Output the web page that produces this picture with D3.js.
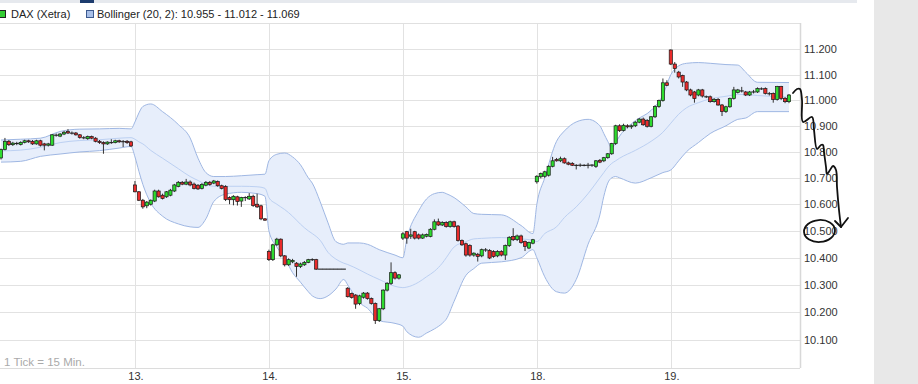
<!DOCTYPE html>
<html><head><meta charset="utf-8">
<script src="https://cdn.jsdelivr.net/npm/d3@7"></script>
<style>
html,body{margin:0;padding:0;background:#fff;}
svg{display:block;}
</style></head><body>
<svg id="chart" width="918" height="384"></svg>
<script>
// ---------- data ----------
const dayLabels = ["13.", "14.", "15.", "18.", "19."];
const dayStartIndex = [34, 68, 102, 136, 170];
const yTickValues = [10100, 10200, 10300, 10400, 10500, 10600, 10700, 10800, 10900, 11000, 11100, 11200];
const seriesLabel = "DAX (Xetra)";
const bandLabel = "Bollinger (20, 2): 10.955 - 11.012 - 11.069";
const tickNote = "1 Tick = 15 Min.";

// candles [open, high, low, close]
const day12 = [
 [10776,10812,10770,10808],[10808,10853,10805,10840],[10840,10845,10822,10827],[10827,10838,10822,10833],
 [10833,10838,10825,10830],[10828,10840,10824,10836],[10836,10846,10832,10842],[10842,10846,10834,10838],
 [10840,10845,10826,10830],[10830,10846,10827,10842],[10842,10846,10820,10825],[10830,10834,10805,10825],
 [10825,10834,10820,10830],[10825,10868,10822,10865],[10865,10870,10858,10862],[10860,10872,10856,10868],
 [10868,10880,10864,10875],[10878,10887,10868,10872],[10872,10878,10866,10871],[10872,10876,10862,10865],
 [10865,10868,10850,10855],[10855,10860,10848,10852],[10850,10862,10846,10858],[10858,10862,10848,10852],
 [10852,10856,10836,10840],[10840,10845,10830,10835],[10835,10840,10792,10830],[10830,10840,10826,10837],
 [10836,10848,10830,10834],[10835,10846,10832,10842],[10842,10846,10834,10838],[10840,10845,10818,10837],
 [10840,10845,10830,10835],[10838,10842,10818,10822]
];
const day13 = [
 [10673,10688,10645,10647],[10647,10650,10612,10615],[10615,10620,10583,10590],[10594,10612,10585,10608],
 [10600,10618,10595,10615],[10612,10655,10608,10650],[10650,10655,10625,10628],[10634,10640,10618,10622],
 [10628,10650,10624,10647],[10634,10658,10630,10653],[10650,10677,10646,10673],[10667,10688,10664,10683],
 [10683,10688,10672,10676],[10676,10696,10672,10684],[10684,10690,10668,10673],[10676,10682,10656,10660],
 [10672,10676,10654,10658],[10660,10680,10656,10675],[10672,10688,10668,10683],[10683,10688,10670,10675],
 [10680,10692,10676,10688],[10686,10690,10666,10670],[10670,10674,10656,10660],[10667,10672,10612,10618],
 [10625,10630,10600,10617],[10617,10634,10596,10630],[10628,10632,10595,10610],[10612,10628,10590,10625],
 [10624,10630,10612,10626],[10620,10642,10616,10630],[10630,10636,10590,10595],[10600,10640,10586,10590],
 [10594,10598,10540,10545],[10545,10548,10538,10540]
];
const day14 = [
 [10423,10430,10388,10393],[10393,10452,10388,10448],[10448,10474,10444,10469],[10469,10472,10402,10407],
 [10407,10410,10368,10374],[10374,10398,10370,10393],[10385,10396,10380,10390],[10380,10384,10330,10368],
 [10368,10382,10362,10377],[10374,10388,10370,10383],[10383,10396,10380,10393],[10392,10398,10388,10394],
 [10393,10396,10355,10358],[10358,10358,10358,10358],[10358,10358,10358,10358],[10358,10358,10358,10358],
 [10358,10358,10358,10358],[10358,10358,10358,10358],[10358,10358,10358,10358],[10358,10358,10358,10358],
 [10288,10292,10254,10257],[10269,10272,10250,10254],[10263,10266,10213,10230],[10232,10264,10226,10260],
 [10255,10274,10250,10270],[10270,10274,10246,10250],[10250,10254,10228,10232],[10232,10236,10158,10170],
 [10170,10216,10165,10213],[10213,10284,10208,10281],[10281,10310,10276,10306],[10306,10383,10300,10345],
 [10345,10350,10320,10325],[10325,10340,10320,10337]
];
const day15 = [
 [10473,10495,10466,10489],[10497,10500,10452,10473],[10480,10508,10470,10485],[10497,10500,10468,10473],
 [10485,10490,10468,10473],[10473,10490,10470,10485],[10480,10490,10476,10487],[10479,10510,10476,10506],
 [10506,10543,10502,10534],[10534,10546,10518,10522],[10522,10536,10518,10531],[10531,10536,10512,10516],
 [10516,10538,10512,10534],[10534,10538,10512,10516],[10518,10522,10460,10464],[10464,10468,10444,10448],
 [10452,10456,10404,10410],[10445,10450,10404,10410],[10410,10420,10404,10417],[10413,10418,10386,10405],
 [10407,10434,10402,10430],[10430,10436,10422,10428],[10427,10432,10395,10399],[10423,10428,10400,10405],
 [10407,10428,10402,10423],[10423,10428,10405,10410],[10410,10449,10392,10445],[10445,10480,10440,10476],
 [10479,10510,10462,10467],[10468,10486,10462,10481],[10481,10486,10452,10457],[10460,10464,10425,10442],
 [10436,10460,10432,10457],[10454,10470,10450,10467]
];
const day18 = [
 [10685,10710,10678,10706],[10704,10720,10698,10716],[10706,10727,10700,10723],[10710,10748,10705,10744],
 [10744,10780,10740,10765],[10770,10776,10762,10765],[10765,10781,10760,10773],[10773,10778,10754,10757],
 [10757,10762,10748,10752],[10755,10760,10745,10748],[10748,10752,10732,10747],[10749,10755,10742,10747],
 [10748,10752,10744,10747],[10747,10757,10736,10749],[10747,10752,10742,10750],[10744,10768,10738,10765],
 [10767,10772,10756,10760],[10765,10780,10760,10777],[10777,10795,10773,10792],[10792,10834,10788,10831],
 [10831,10904,10826,10900],[10900,10906,10876,10881],[10882,10908,10878,10902],[10900,10906,10890,10896],
 [10896,10905,10888,10900],[10900,10918,10895,10914],[10914,10930,10910,10926],[10926,10932,10900,10904],
 [10920,10926,10893,10898],[10898,10938,10894,10935],[10935,10980,10930,10975],[10975,11002,10970,10998],
 [10998,11085,10994,11068],[11068,11078,11055,11058]
];
const day19 = [
 [11198,11200,11138,11142],[11142,11150,11108,11125],[11110,11115,11085,11091],[11097,11100,11052,11071],
 [11071,11075,11035,11040],[11040,11045,11015,11020],[11032,11036,10990,11006],[11020,11044,11015,11040],
 [11040,11044,11010,11016],[11014,11018,11008,11012],[11013,11018,10990,10994],[10994,11008,10990,11003],
 [11003,11008,10978,10981],[10981,10985,10938,10955],[10955,10978,10950,10974],[10974,11010,10970,11006],
 [11006,11052,11002,11040],[11030,11044,11026,11040],[11035,11052,11030,11037],[11032,11036,11016,11020],
 [11020,11036,11016,11032],[11031,11040,11026,11033],[11032,11050,11028,11045],[11045,11050,11040,11043],
 [11045,11050,11022,11026],[11026,11032,11018,11024],[11026,11030,10990,11003],[11003,11056,10998,11053],
 [11053,11056,11000,11007],[11007,11012,10988,10994],[10994,11024,10988,11020]
];

// Bollinger band read at sampled candle indices
const bandIndex = [0,5,10,15,20,25,30,33,34,35,36,38,41,45,48,50,52,54,57,61,65,67,
  68,70,72,74,76,78,79,81,83,85,87,88,91,93,96,100,102,103,106,108,110,112,113,115,118,120,122,127,132,135,
  136,138,141,143,146,149,152,153,154,155,156,157,161,165,168,170,172,174,177,180,184,187,189,192,200];
const bandUpper = [10845,10848,10852,10878,10887,10888,10890,10888,10915,10950,10975,10985,10955,10905,10853,10775,10720,10705,10705,10708,10712,10714,
  10765,10790,10795,10780,10750,10700,10680,10610,10530,10460,10450,10455,10455,10450,10430,10410,10400,10470,10575,10620,10640,10645,10640,10625,10590,10565,10562,10560,10520,10490,
  10600,10700,10840,10880,10915,10925,10900,10870,10840,10815,10835,10860,10920,10960,11020,11100,11135,11145,11148,11145,11140,11138,11110,11070,11069];
const bandMid = [10803,10806,10817,10835,10843,10846,10852,10854,10848,10838,10830,10805,10775,10735,10705,10690,10675,10668,10668,10668,10666,10660,
  10625,10600,10580,10555,10525,10500,10490,10465,10420,10395,10380,10375,10355,10340,10320,10295,10290,10292,10310,10330,10350,10380,10400,10440,10460,10470,10472,10475,10470,10465,
  10460,10490,10515,10550,10590,10640,10700,10720,10740,10755,10765,10775,10805,10840,10875,10910,10945,10970,10990,11005,11015,11022,11022,11018,11012];
const bandLower = [10760,10763,10782,10791,10799,10804,10814,10820,10780,10725,10675,10605,10555,10526,10515,10513,10545,10610,10638,10645,10640,10630,
  10500,10440,10400,10345,10310,10275,10260,10250,10260,10285,10320,10300,10235,10215,10170,10160,10150,10130,10110,10125,10140,10160,10175,10240,10335,10360,10380,10385,10400,10430,
  10400,10330,10275,10270,10320,10450,10560,10630,10680,10700,10705,10700,10680,10700,10720,10730,10765,10800,10835,10870,10900,10925,10930,10955,10955];

// freehand annotation overlay (screen pixels)
const annotationStroke = [[793,93],[797,89],[800,89],[802,100],[803,122],[812,117],[814,130],[817,149],[821,145],[823,145],[824,152],[826,167],[827,174],[830,170],[833,166],[836,170],[837,187],[839,210],[841,227]];
const annotationArrow = [[835,221],[841,227],[848,218]];

// ---------- chart ----------
const candles = [].concat(day12, day13, day14, day15, day18, day19);
const svg = d3.select("#chart");
const P = {left: 0, right: 800, top: 23, bottom: 368};
const x = d3.scaleLinear().domain([0, 200]).range([1, 789]);
const y = d3.scaleLog().domain([10000, 11306]).range([P.bottom, P.top]);
const step = x(1) - x(0);
const de = d3.formatLocale({decimal: ",", thousands: ".", grouping: [3], currency: ["", "€"]});
const fmt = de.format(",");
const font = "'Liberation Sans', Arial, sans-serif";
const narrow = "'Liberation Sans Narrow', 'Arial Narrow', 'Liberation Sans', sans-serif";

// right grey panel & top bar
svg.append("rect").attr("x", 874).attr("y", 0).attr("width", 44).attr("height", 384).attr("fill", "#e8e8e8");
svg.append("rect").attr("x", 0).attr("y", 0).attr("width", 857).attr("height", 3).attr("fill", "#e6e9ee");
svg.append("rect").attr("x", 80).attr("y", 0).attr("width", 14).attr("height", 3).attr("fill", "#1d3c6e");

// grid
const g = svg.append("g");
g.selectAll("line.h").data(yTickValues).join("line")
  .attr("x1", P.left).attr("x2", P.right)
  .attr("y1", d => Math.round(y(d)) + 0.5).attr("y2", d => Math.round(y(d)) + 0.5)
  .attr("stroke", "#e2e2e2").attr("stroke-width", 1);
g.selectAll("line.v").data(dayStartIndex).join("line")
  .attr("x1", d => Math.round(x(d)) + 0.5).attr("x2", d => Math.round(x(d)) + 0.5)
  .attr("y1", P.top).attr("y2", P.bottom)
  .attr("stroke", "#e2e2e2").attr("stroke-width", 1);
// frame
svg.append("line").attr("x1", 0).attr("x2", P.right).attr("y1", P.top + 0.5).attr("y2", P.top + 0.5).attr("stroke", "#e0e0e0");
svg.append("line").attr("x1", 0).attr("x2", P.right).attr("y1", P.bottom + 0.5).attr("y2", P.bottom + 0.5).attr("stroke", "#dcdcdc");
svg.append("line").attr("x1", P.right + 0.5).attr("x2", P.right + 0.5).attr("y1", P.top).attr("y2", P.bottom).attr("stroke", "#d8d8d8").attr("stroke-width", 1.5);

// clip
svg.append("clipPath").attr("id", "clip").append("rect")
  .attr("x", P.left).attr("y", P.top).attr("width", P.right - P.left).attr("height", P.bottom - P.top);
const plot = svg.append("g").attr("clip-path", "url(#clip)");

// Bollinger band
const band = bandIndex.map((i, k) => ({i, u: bandUpper[k], m: bandMid[k], l: bandLower[k]}));
const curve = d3.curveMonotoneX;
plot.append("path").datum(band)
  .attr("d", d3.area().x(d => x(d.i)).y0(d => y(d.l)).y1(d => y(d.u)).curve(curve))
  .attr("fill", "#e7eefb").attr("stroke", "none");
plot.append("path").datum(band)
  .attr("d", d3.line().x(d => x(d.i)).y(d => y(d.m)).curve(curve))
  .attr("fill", "none").attr("stroke", "#bcd0f2").attr("stroke-width", 1);
["u", "l"].forEach(k => {
  plot.append("path").datum(band)
    .attr("d", d3.line().x(d => x(d.i)).y(d => y(d[k])).curve(curve))
    .attr("fill", "none").attr("stroke", "#9fb7e3").attr("stroke-width", 1);
});

// candles
const cg = plot.append("g");
candles.forEach((c, i) => {
  const [o, h, l, cl] = c;
  const cx = x(i);
  const top = y(Math.max(o, cl)), bot = y(Math.min(o, cl));
  cg.append("line").attr("x1", cx).attr("x2", cx).attr("y1", y(h)).attr("y2", y(l))
    .attr("stroke", "#333").attr("stroke-width", 1);
  if (Math.abs(bot - top) < 0.8) {
    cg.append("line").attr("x1", cx - step / 2 - 0.1).attr("x2", cx + step / 2 + 0.1)
      .attr("y1", (top + bot) / 2).attr("y2", (top + bot) / 2)
      .attr("stroke", "#222").attr("stroke-width", 1.1);
  } else {
    cg.append("rect").attr("x", cx - 1.6).attr("width", 3.2)
      .attr("y", top).attr("height", bot - top)
      .attr("fill", cl >= o ? "#2edb2e" : "#ea2b2b")
      .attr("stroke", "#1a1a1a").attr("stroke-width", 0.7);
  }
});

// y labels
svg.append("g").selectAll("text").data(yTickValues).join("text")
  .attr("x", 804).attr("y", d => y(d)).attr("dy", "0.35em")
  .attr("font-family", font).attr("font-size", 11).attr("fill", "#333")
  .text(d => fmt(d));

// x labels
svg.append("g").selectAll("text").data(dayLabels).join("text")
  .attr("x", (d, k) => x(dayStartIndex[k]) + 1).attr("y", 380)
  .attr("text-anchor", "middle")
  .attr("font-family", narrow)
  .attr("font-size", 11).attr("fill", "#333")
  .text(d => d);

// tick note
svg.append("text").attr("x", 4).attr("y", 366)
  .attr("font-family", narrow)
  .attr("font-size", 11.5).attr("fill", "#aaaaaa").text(tickNote);

// legend
const lg = svg.append("g");
lg.append("rect").attr("x", -1.5).attr("y", 10.5).attr("width", 7).attr("height", 7)
  .attr("fill", "#33cc33").attr("stroke", "#222").attr("stroke-width", 1);
lg.append("text").attr("x", 11).attr("y", 18).attr("font-family", font).attr("font-size", 11)
  .attr("fill", "#222").text(seriesLabel);
lg.append("rect").attr("x", 86.5).attr("y", 10.5).attr("width", 7).attr("height", 7)
  .attr("fill", "#a8bfe8").attr("stroke", "#3d5a8f").attr("stroke-width", 1);
lg.append("text").attr("x", 97).attr("y", 18).attr("font-family", font).attr("font-size", 11)
  .attr("fill", "#222").text(bandLabel);

// freehand annotation
const ann = svg.append("g").attr("fill", "none").attr("stroke", "#111").attr("stroke-width", 1.8)
  .attr("stroke-linejoin", "round").attr("stroke-linecap", "round");
ann.append("path").attr("d", d3.line().curve(d3.curveCatmullRom.alpha(0.5))(annotationStroke));
ann.append("path").attr("d", d3.line()(annotationArrow));
ann.append("ellipse").attr("cx", 819.5).attr("cy", 231).attr("rx", 15.5).attr("ry", 11)
  .attr("transform", "rotate(-4 819.5 231)");
</script>
</body></html>
